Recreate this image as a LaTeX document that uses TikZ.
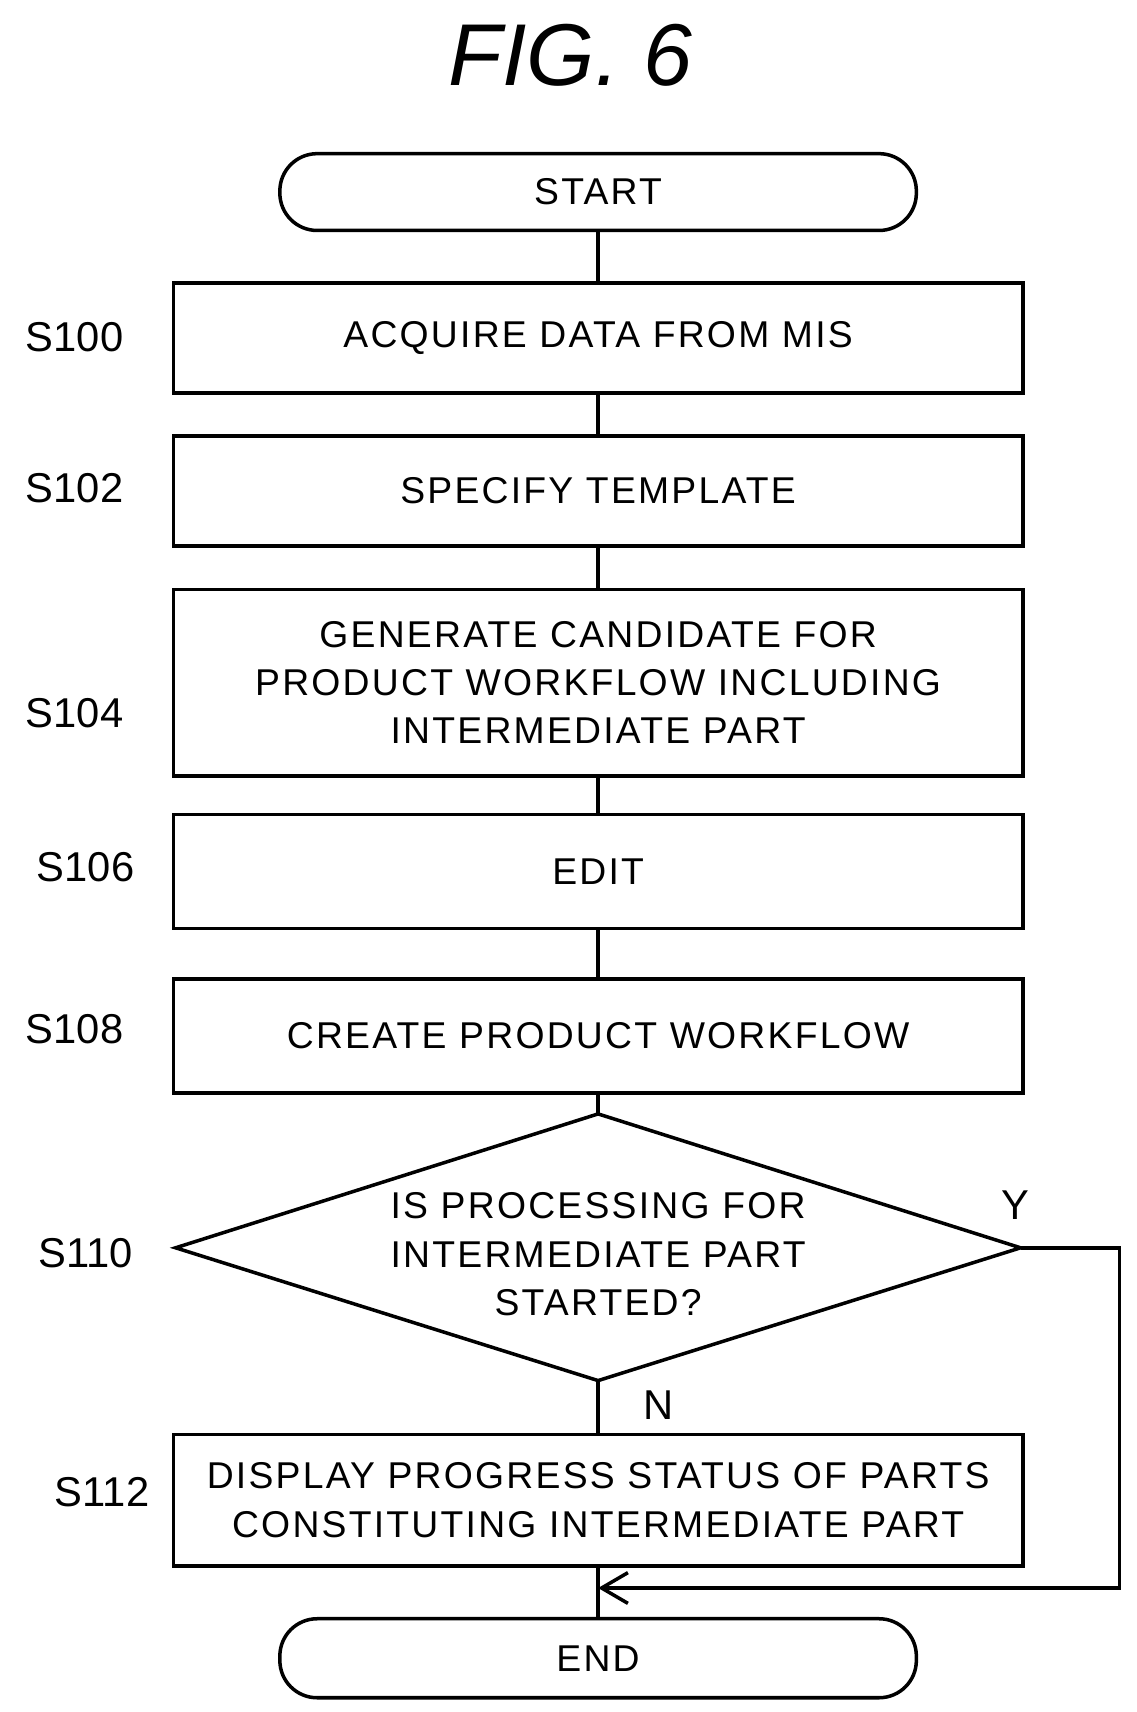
\documentclass[tikz,border=0pt]{standalone}
\usepackage{fontspec}
\setmainfont{Liberation Sans}
\usetikzlibrary{shapes.geometric,arrows.meta}
\begin{document}
\begin{tikzpicture}[x=0.5pt,y=-0.5pt,line width=1.6pt,
 box/.style={draw,rectangle,minimum width=387pt,align=center,font=\fontsize{17}{22}\selectfont\addfontfeature{LetterSpace=6}},
 lab/.style={font=\fontsize{19}{22}\selectfont}]
\useasboundingbox (0,0) rectangle (1036,1560);
\node[font=\fontsize{40}{44}\selectfont\itshape] (title) at (520,50) {FIG. 6};
\node[box,rounded corners=17pt,minimum width=290pt,minimum height=35pt] (start) at (545,175) {START};
\node[box,minimum height=50pt] (s100) at (545,308) {ACQUIRE DATA FROM MIS};
\node[box,minimum height=50pt] (s102) at (545,447.5) {SPECIFY TEMPLATE};
\node[box,minimum height=85pt] (s104) at (545,622) {GENERATE CANDIDATE FOR\\PRODUCT WORKFLOW INCLUDING\\INTERMEDIATE PART};
\node[box,minimum height=52pt] (s106) at (545,794) {EDIT};
\node[box,minimum height=52pt] (s108) at (545,944) {CREATE PRODUCT WORKFLOW};
\node[box,draw=none,minimum width=0pt] (s110t) at (545,1143) {IS PROCESSING FOR\\INTERMEDIATE PART\\STARTED?};
\coordinate (dt) at (545,1015); \coordinate (dr) at (930,1137);
\coordinate (db) at (545,1258); \coordinate (dl) at (160,1137);
\draw (dt)--(dr)--(db)--(dl)--cycle;
\node[box,minimum height=60pt] (s112) at (545,1367) {DISPLAY PROGRESS STATUS OF PARTS\\CONSTITUTING INTERMEDIATE PART};
\node[box,rounded corners=17pt,minimum width=290pt,minimum height=36pt] (end) at (545,1511) {END};
\node[lab] (l100) at (68,307) {S100};
\node[lab] (l102) at (68,445) {S102};
\node[lab] (l104) at (68,650) {S104};
\node[lab] (l106) at (78,790) {S106};
\node[lab] (l108) at (68,938) {S108};
\node[lab] (l110) at (78,1142) {S110};
\node[lab] (l112) at (93,1360) {S112};
\node[lab] (y) at (925,1098) {Y};
\node[lab] (n) at (600,1280) {N};
\draw (start)--(s100); \draw (s100)--(s102); \draw (s102)--(s104);
\draw (s104)--(s106); \draw (s106)--(s108); \draw (s108.south)--(dt);
\draw (db)--(s112.north); \draw (s112)--(end);
\coordinate (m) at (545,1447);
\draw[-{Straight Barb[length=12pt,width=14pt]}] (dr)--(1020,1137)--(1020,1447)--(m);
\end{tikzpicture}
\end{document}
